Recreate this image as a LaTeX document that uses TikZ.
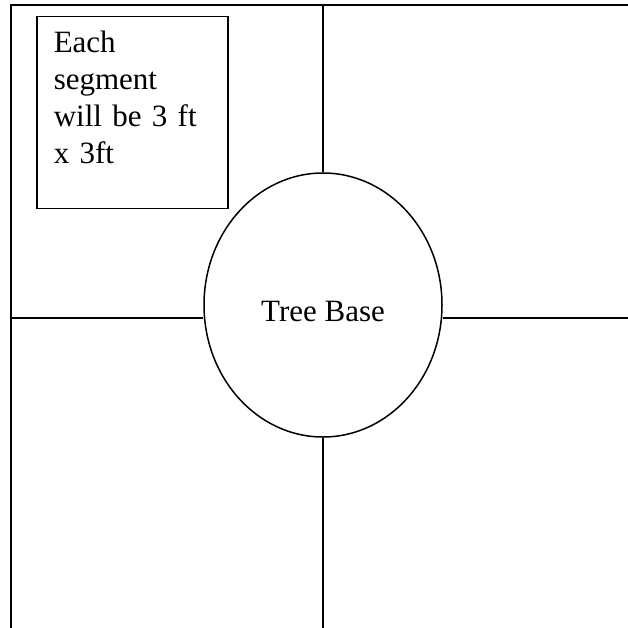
\documentclass[tikz,border=0pt]{standalone}
\usepackage{fontspec}
\setmainfont{Liberation Serif}
\usetikzlibrary{shapes.geometric, positioning}

\begin{document}
\begin{tikzpicture}[
  x=1pt, y=1pt,
  every path/.style={line width=1.5pt},
  notebox/.style={draw, line width=1.5pt, anchor=north west, align=left,
    text width=157pt, inner xsep=17pt, inner ysep=0pt,
    text height=36pt, text depth=156pt,
    font=\fontsize{31}{37}\selectfont},
  base/.style={draw, ellipse, line width=1.5pt, inner sep=0pt,
    minimum width=238pt, minimum height=264pt, text height=34pt,
    font=\fontsize{31}{37}\selectfont}
]
  \useasboundingbox (0,0) rectangle (628,-628);
  \coordinate (tl) at (11,-5);
  \coordinate (tr) at (628,-5);
  \coordinate (bl) at (11,-628);
  \coordinate (tm) at (323,-5);
  \coordinate (bm) at (323,-628);
  \coordinate (ml) at (11,-318);
  \coordinate (mr) at (628,-318);
  \node[base] (tree) at (323,-305) {Tree Base};
  \node[notebox] (note) at (36,-16) {Each\\segment\\will be 3 ft\\x 3ft};
  \draw (tr) -- (tl) -- (bl);
  \draw (tm) -- (tree.north);
  \draw (tree.south) -- (bm);
  \draw (ml) -- (ml -| tree.west);
  \draw (mr -| tree.east) -- (mr);
\end{tikzpicture}
\end{document}
